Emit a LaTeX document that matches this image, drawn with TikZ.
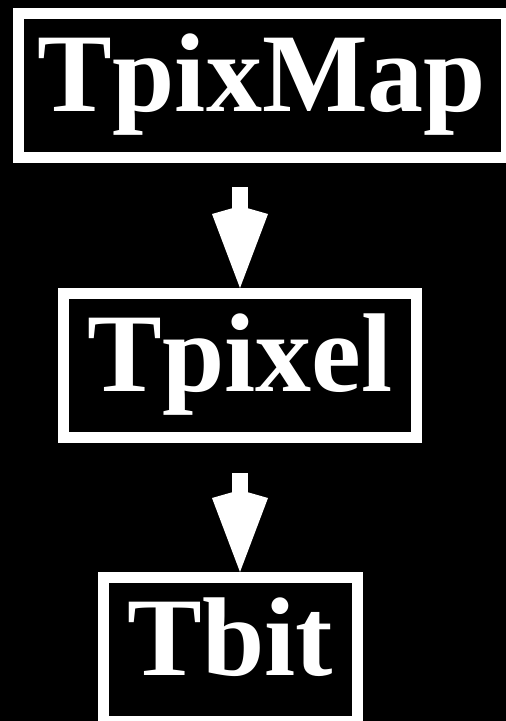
\documentclass[tikz,border=0pt]{standalone}
\usepackage{fontspec}
\setmainfont{Liberation Serif}
\usepackage{tikz}
\usetikzlibrary{positioning,arrows.meta}

\begin{document}
\begin{tikzpicture}[
  x=1pt,y=1pt,
  font=\fontsize{112}{130}\selectfont\bfseries,
  classbox/.style={draw=white,line width=11pt,text=white,text height=77pt,text depth=25pt,minimum height=144pt,inner sep=0pt},
  arrow/.style={-{Kite[length=82pt,width=56pt,inset=8pt]},line width=16pt,white}]
\fill[black] (0,0) rectangle (506,-721);
\useasboundingbox (0,0) rectangle (506,-721);
\node[classbox,minimum width=488pt] (map) at (262,-85.5) {TpixMap};
\node[classbox,minimum width=353pt,below=125pt of map,xshift=-22pt] (pixel) {Tpixel};
\node[classbox,minimum width=254pt,below=129pt of pixel,xshift=-9.5pt] (bit) {Tbit};
\draw[arrow,shorten <=24pt] (map.south -| pixel) -- (pixel.north);
\draw[arrow,shorten <=30pt] (pixel.south) -- (bit.north -| pixel);
\end{tikzpicture}
\end{document}
